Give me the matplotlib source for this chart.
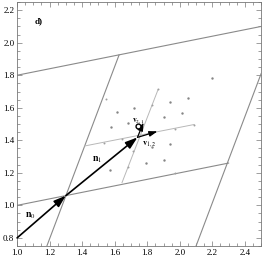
import numpy as np
from matplotlib import pyplot as plt
from matplotlib.ticker import MultipleLocator

plt.rcParams['font.family'] = 'Liberation Serif'
plt.rcParams['mathtext.fontset'] = 'stix'

# big cell lines (x0, y0, x1, y1)
BIG_LINES = [(1.0, 1.8, 2.5, 2.1),
             (1.0, 1.0, 2.3, 1.26),
             (1.183, 0.75, 1.627, 1.925),
             (2.1, 0.75, 2.5, 1.81)]
# small cell lines
SMALL_LINES = [(1.415, 1.365, 2.088, 1.497),
               (1.645, 1.14, 1.867, 1.713)]

# marks lying on the lines
LINE_PTS_X = [1.537, 1.643, 1.97, 2.088, 1.684, 1.715, 1.83, 1.867, 1.547, 1.97]
LINE_PTS_Y = [1.381, 1.406, 1.47, 1.494, 1.234, 1.336, 1.62, 1.713, 1.652, 1.20]

# scattered points
PTS_X = [2.197, 2.049, 1.940, 1.719, 1.613, 2.012, 1.903, 1.684, 1.577, 1.940, 1.830, 1.900, 1.793, 1.572]
PTS_Y = [1.781, 1.662, 1.637, 1.597, 1.576, 1.568, 1.545, 1.504, 1.479, 1.376, 1.357, 1.279, 1.259, 1.217]

# arrows (start, end)
N0 = ((1.0, 0.8), (1.3, 1.06))
N1 = ((1.3, 1.06), (1.74, 1.418))
V12 = ((1.74, 1.418), (1.863, 1.455))
V21 = ((1.74, 1.418), (1.777, 1.510))
CIRCLE = (1.746, 1.489)

fig = plt.figure(figsize=(2.67, 2.56), dpi=100)
ax = fig.add_axes([0.064, 0.039, 0.914, 0.953])

for x0, y0, x1, y1 in BIG_LINES:
    ax.plot([x0, x1], [y0, y1], color='#8a8a8a', lw=0.8)
for x0, y0, x1, y1 in SMALL_LINES:
    ax.plot([x0, x1], [y0, y1], color='#b8b8b8', lw=0.7)

ax.scatter(LINE_PTS_X, LINE_PTS_Y, s=2, color='#a0a0a0', zorder=3, linewidths=0)
ax.scatter(PTS_X, PTS_Y, s=3, color='#858585', zorder=3, linewidths=0)

def arrow(seg, lw=1.2, size=12):
    ax.annotate('', xy=seg[1], xytext=seg[0],
                arrowprops=dict(arrowstyle='-|>,head_length=0.6,head_width=0.2',
                                color='black', lw=lw, shrinkA=0, shrinkB=0,
                                mutation_scale=size), zorder=4)

arrow(N0)
arrow(N1)
arrow(V12, lw=0.9, size=8)
arrow(V21, lw=0.9, size=8)
ax.plot(*CIRCLE, marker='o', ms=3.5, mfc='white', mec='black', mew=1.0, zorder=5)

ax.text(1.08, 0.935, r'$\mathbf{n}_0$', fontsize=7, ha='center', va='center')
ax.text(1.49, 1.28, r'$\mathbf{n}_1$', fontsize=7, ha='center', va='center')
ax.text(1.811, 1.379, r'$\mathbf{v}_{1,2}$', fontsize=6, ha='center', va='center')
ax.text(1.744, 1.522, r'$\mathbf{v}_{2,1}$', fontsize=5.5, ha='center', va='center')
ax.text(1.13, 2.13, 'd)', fontsize=6.5, fontweight='bold', ha='center', va='center')

ax.set_xlim(1.0, 2.5)
ax.set_ylim(0.75, 2.25)
ax.xaxis.set_major_locator(MultipleLocator(0.2))
ax.xaxis.set_minor_locator(MultipleLocator(0.05))
ax.yaxis.set_major_locator(MultipleLocator(0.2))
ax.yaxis.set_minor_locator(MultipleLocator(0.05))
ax.tick_params(which='both', direction='in', top=True, right=True,
               labelsize=6.5, pad=2, color='#777777', width=0.5)
ax.tick_params(which='major', length=3.5)
ax.tick_params(which='minor', length=2)
for s in ax.spines.values():
    s.set_color('#777777')
    s.set_linewidth(0.6)

plt.savefig('out.png', dpi=100)
